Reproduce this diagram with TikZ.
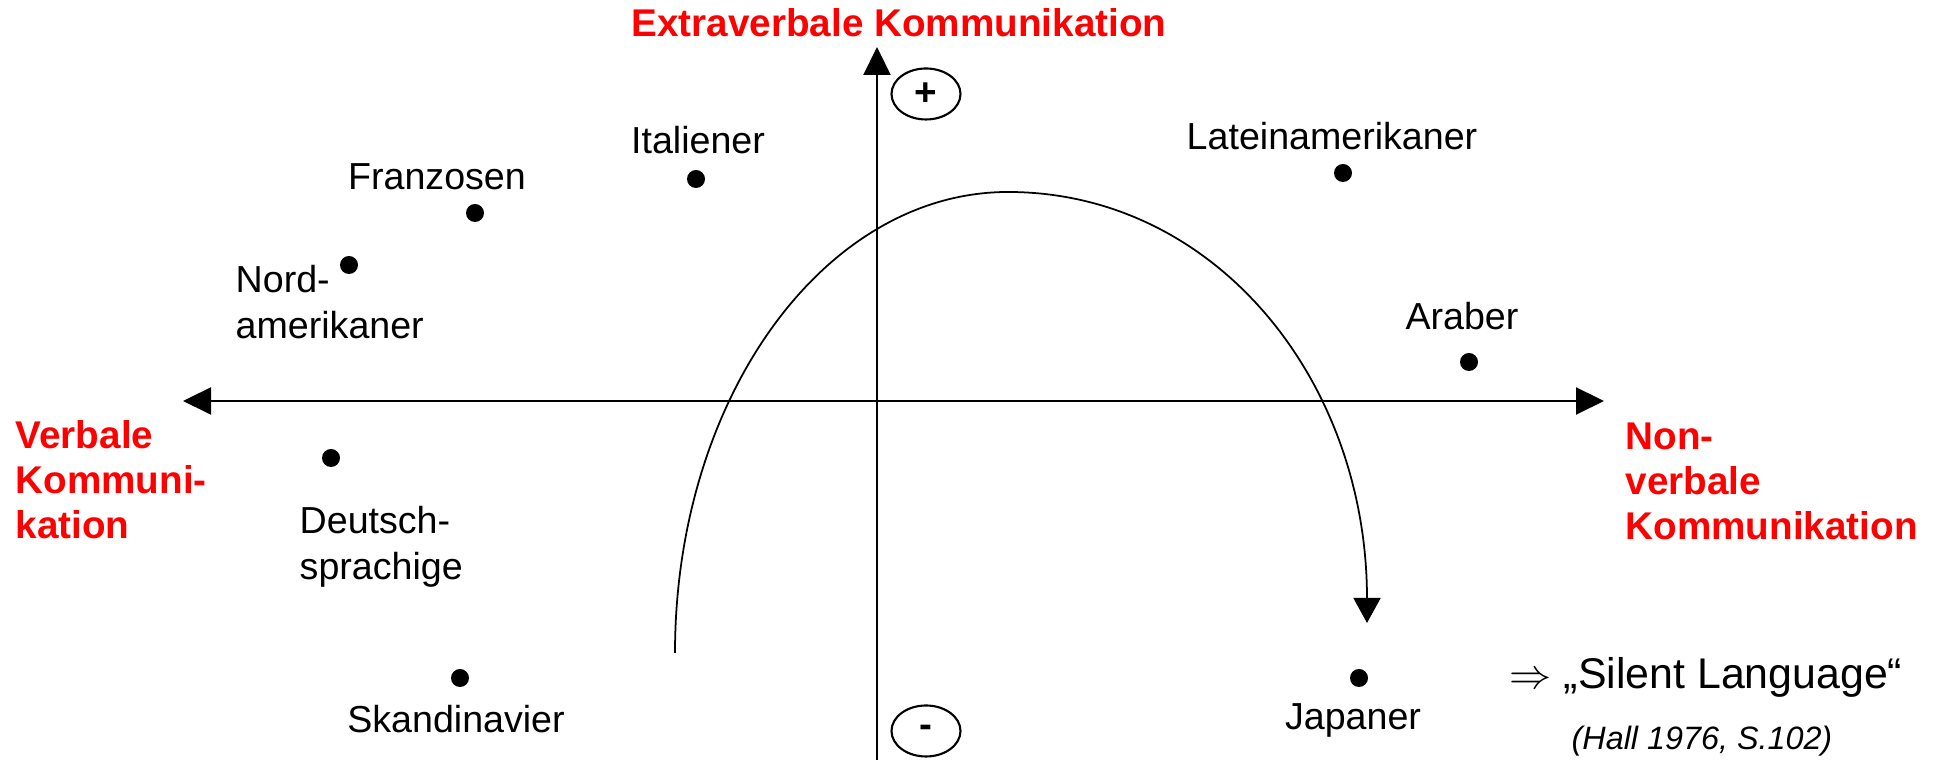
\documentclass[tikz,border=0pt]{standalone}
\usepackage{fontspec}
\setmainfont{Liberation Sans}
\usepackage{xcolor}
\usetikzlibrary{arrows.meta,shapes.geometric}
\definecolor{kommred}{RGB}{255,0,0}
\tikzset{
  axisline/.style={line width=0.6pt,>={Triangle[length=2.8mm,width=2.7mm]}},
  country/.style={circle,fill=black,inner sep=0pt,minimum size=1.8mm},
  countrylabel/.style={font=\fontsize{10.7}{13}\selectfont,inner sep=0pt,align=left},
  dimlabel/.style={font=\fontsize{11}{12.8}\selectfont\bfseries,text=kommred,inner sep=0pt,align=left},
  signbox/.style={ellipse,draw,line width=0.6pt,minimum width=6.9mm,minimum height=5.1mm,inner sep=0pt,font=\fontsize{11}{12}\selectfont\bfseries},
  trend/.style={-{Triangle[length=2.5mm,width=2.7mm]},line width=0.5pt},
}
\begin{document}
\begin{tikzpicture}
  \useasboundingbox (0,0) rectangle (19.39,7.60);
  % axes
  \coordinate (xl) at (1.83,3.59);
  \coordinate (xr) at (16.04,3.59);
  \coordinate (yb) at (8.77,0);
  \coordinate (yt) at (8.77,7.13);
  \draw[axisline,<->] (xl) -- (xr);
  \draw[axisline,->] (yb) -- (yt);
  \node[signbox] (plus) at (9.26,6.66) {+};
  \node[signbox] (minus) at (9.26,0.29) {-};
  % dimensions
  \node[dimlabel,anchor=base] (extra) at (8.99,7.23) {Extraverbale Kommunikation};
  \node[dimlabel,anchor=north west] (verbal) at (0.15,3.40) {Verbale\\Kommuni-\\kation};
  \node[dimlabel,anchor=north west] (nonverbal) at (16.25,3.38) {Non-\\verbale\\Kommunikation};
  % countries
  \node[country] (ital) at (6.96,5.81) {};
  \node[country] (franz) at (4.75,5.47) {};
  \node[country] (nordam) at (3.49,4.95) {};
  \node[country] (deutsch) at (3.31,3.02) {};
  \node[country] (skand) at (4.60,0.82) {};
  \node[country] (latein) at (13.43,5.87) {};
  \node[country] (arab) at (14.69,3.98) {};
  \node[country] (japan) at (13.59,0.82) {};
  \node[countrylabel,anchor=base] (italtext) at (6.98,6.06) {Italiener};
  \node[countrylabel,anchor=base] (franztext) at (4.37,5.70) {Franzosen};
  \node[countrylabel,anchor=north west] (nordamtext) at (2.35,4.95) {Nord-\\amerikaner};
  \node[countrylabel,anchor=north west] (deutschtext) at (2.99,2.54) {Deutsch-\\sprachige};
  \node[countrylabel,anchor=base] (skandtext) at (4.56,0.27) {Skandinavier};
  \node[countrylabel,anchor=base] (lateintext) at (13.32,6.10) {Lateinamerikaner};
  \node[countrylabel,anchor=base] (arabtext) at (14.62,4.30) {Araber};
  \node[countrylabel,anchor=base] (japantext) at (13.53,0.30) {Japaner};
  % trend
  \coordinate (trendstart) at (6.75,1.07);
  \coordinate (trendtop) at (10.08,5.68);
  \coordinate (trendend) at (13.67,1.37);
  \draw[trend] (trendstart) arc[start angle=180,end angle=90,x radius=3.33,y radius=4.61]
    .. controls (12.15,5.68) and (13.67,3.80) .. (trendend);
  % source
  \node[anchor=base west,inner sep=0pt,font=\fontsize{12.2}{14}\selectfont] (silent) at (15.09,0.71) {$\Rightarrow$ „Silent Language“};
  \node[anchor=base west,inner sep=0pt,font=\fontsize{9.2}{11}\selectfont\itshape] (hall) at (15.71,0.10) {(Hall 1976, S.102)};
\end{tikzpicture}
\end{document}
